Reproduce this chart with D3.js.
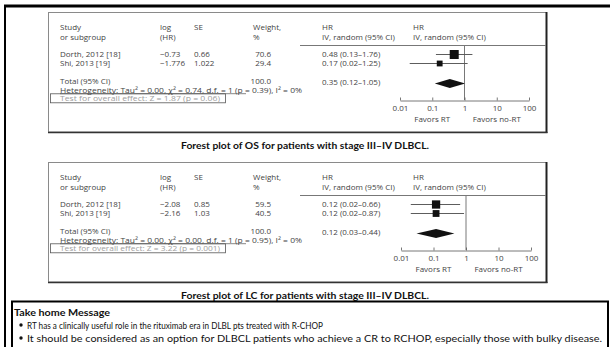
<!DOCTYPE html>
<html><head><meta charset="utf-8">
<script src="https://cdn.jsdelivr.net/npm/d3@7"></script>
<style>
html,body{margin:0;padding:0;background:#fff;}
svg{display:block;}
.ft{font-family:"Open Sans","Noto Sans",sans-serif;font-size:8px;fill:#444;}
.cap{font-family:Lato,"Open Sans",sans-serif;font-weight:bold;font-size:10px;fill:#111;}
.msg{font-family:Lato,"Open Sans",sans-serif;font-size:10px;fill:#111;}
</style></head><body>
<script>
// ---- data ----
const tickLabels = ["0.01", "0.1", "1", "10", "100"];
const tickValues = [0.01, 0.1, 1, 10, 100];

const studies1 = ["Dorth, 2012 [18]", "Shi, 2013 [19]"];
const logHR1 = ["\u22120.73", "\u22121.776"];
const se1 = ["0.66", "1.022"];
const weight1 = [70.6, 29.4];
const hr1 = [0.48, 0.17];
const lo1 = [0.13, 0.02];
const hi1 = [1.76, 1.25];
const total1 = [0.35, 0.12, 1.05];
const het1 = "Heterogeneity: Tau\u00B2 = 0.00, \u03C7\u00B2 = 0.74, d.f. = 1 (p = 0.39), I\u00B2 = 0%";
const test1 = "Test for overall effect: Z = 1.87 (p = 0.06)";
const caption1 = "Forest plot of OS for patients with stage III\u2013IV DLBCL.";

const studies2 = ["Dorth, 2012 [18]", "Shi, 2013 [19]"];
const logHR2 = ["\u22122.08", "\u22122.16"];
const se2 = ["0.85", "1.03"];
const weight2 = [59.5, 40.5];
const hr2 = [0.12, 0.12];
const lo2 = [0.02, 0.02];
const hi2 = [0.66, 0.87];
const total2 = [0.12, 0.03, 0.44];
const het2 = "Heterogeneity: Tau\u00B2 = 0.00, \u03C7\u00B2 = 0.00, d.f. = 1 (p = 0.95), I\u00B2 = 0%";
const test2 = "Test for overall effect: Z = 3.22 (p = 0.001)";
const caption2 = "Forest plot of LC for patients with stage III\u2013IV DLBCL.";

const msgTitle = "Take home Message";
const bullets = [
  "RT has a clinically useful role in the rituximab era in DLBL pts treated with R-CHOP",
  "It should be considered as an option for DLBCL patients who achieve a CR to RCHOP, especially those with bulky disease."
];

// ---- drawing ----
const W = 610, H = 347;
const svg = d3.select("body").append("svg").attr("width", W).attr("height", H);

// outer frame
svg.append("line").attr("x1", 4).attr("x2", 610).attr("y1", 6).attr("y2", 6)
  .attr("stroke", "#000").attr("stroke-width", 3);
svg.append("line").attr("x1", 5).attr("x2", 5).attr("y1", 5).attr("y2", 347)
  .attr("stroke", "#000").attr("stroke-width", 2);

function fmtCI(h, l, u) { return h.toFixed(2) + " (" + l.toFixed(2) + "\u2013" + u.toFixed(2) + ")"; }

function forest(oy, cfg) {
  const g = svg.append("g").attr("transform", `translate(0,${oy})`);
  // box
  g.append("rect").attr("x", 48.5).attr("y", 12.5).attr("width", 498).attr("height", 119.5)
    .attr("fill", "none").attr("stroke", "#8a8a8a").attr("stroke-width", 1);
  g.append("line").attr("x1", 546.5).attr("x2", 546.5).attr("y1", 12).attr("y2", 133)
    .attr("stroke", "#222").attr("stroke-width", 2);
  g.append("line").attr("x1", 48).attr("x2", 547.5).attr("y1", 132.5).attr("y2", 132.5)
    .attr("stroke", "#333").attr("stroke-width", 1.3);

  const x = d3.scaleLog().domain([0.01, 100]).range(cfg.range);
  const rowY = d3.scalePoint().domain(cfg.studies).range([54, 63]);
  const sz = d3.scaleSqrt().domain([0, 70.6]).range([0, 9]);

  // headers
  const hdr = [[60, "Study", "or subgroup"], [160, "log", "(HR)"], [194, "SE", ""], [253, "Weight,", "%"],
               [322, "HR", "IV, random (95% CI)"], [413, "HR", "IV, random (95% CI)"]];
  hdr.forEach(h => {
    g.append("text").attr("class", "ft").attr("x", h[0]).attr("y", 30).text(h[1]);
    g.append("text").attr("class", "ft").attr("x", h[0]).attr("y", 40).text(h[2]);
  });
  g.append("line").attr("x1", cfg.lineStart).attr("x2", 546).attr("y1", 45.5).attr("y2", 45.5)
    .attr("stroke", "#777").attr("stroke-width", 1);

  cfg.studies.forEach((s, i) => {
    const y = rowY(s);
    g.append("text").attr("class", "ft").attr("x", 60).attr("y", y + 2.8).text(s);
    g.append("text").attr("class", "ft").attr("x", 160).attr("y", y + 2.8).text(cfg.logHR[i]);
    g.append("text").attr("class", "ft").attr("x", 194).attr("y", y + 2.8).text(cfg.se[i]);
    g.append("text").attr("class", "ft").attr("x", 271).attr("y", y + 2.8).attr("text-anchor", "end").text(cfg.weight[i].toFixed(1));
    g.append("text").attr("class", "ft").attr("x", 322).attr("y", y + 2.8).text(fmtCI(cfg.hr[i], cfg.lo[i], cfg.hi[i]));
    g.append("line").attr("x1", x(cfg.lo[i])).attr("x2", x(cfg.hi[i])).attr("y1", y + 0.5).attr("y2", y + 0.5)
      .attr("stroke", "#333").attr("stroke-width", 0.8);
    const s2 = sz(cfg.weight[i]);
    g.append("rect").attr("x", x(cfg.hr[i]) - s2 / 2).attr("y", y + 0.5 - s2 / 2).attr("width", s2).attr("height", s2)
      .attr("fill", "#111");
  });

  const ty = 83.5;
  g.append("text").attr("class", "ft").attr("x", 60).attr("y", 83.5).text("Total (95% CI)");
  g.append("text").attr("class", "ft").attr("x", 271).attr("y", 83.5).attr("text-anchor", "end").text("100.0");
  g.append("text").attr("class", "ft").attr("x", 322).attr("y", 84.5).text(fmtCI(cfg.total[0], cfg.total[1], cfg.total[2]));
  const t = cfg.total;
  g.append("path").attr("d", `M${x(t[1])},${ty}L${x(t[0])},${ty - 4.5}L${x(t[2])},${ty}L${x(t[0])},${ty + 4.5}Z`)
    .attr("fill", "#111");

  g.append("text").attr("class", "ft").attr("x", 60).attr("y", 92.5)
    .attr("textLength", 242).attr("lengthAdjust", "spacingAndGlyphs").text(cfg.het);
  g.append("line").attr("x1", 60).attr("x2", 246).attr("y1", 93.7).attr("y2", 93.7).attr("stroke", "#555").attr("stroke-width", 0.7);
  g.append("rect").attr("x", 50.5).attr("y", 93.8).attr("width", 175).attr("height", 9)
    .attr("fill", "none").attr("stroke", "#555").attr("stroke-width", 0.8);
  g.append("text").attr("class", "ft").attr("x", 60).attr("y", 101).style("fill", "#a0a0a0")
    .attr("textLength", 160).attr("lengthAdjust", "spacingAndGlyphs").text(cfg.test);

  // null line
  g.append("line").attr("x1", x(1)).attr("x2", x(1)).attr("y1", 46).attr("y2", 100)
    .attr("stroke", "#555").attr("stroke-width", 0.8);

  const ax = g.append("g").attr("transform", "translate(0,100.5)")
    .call(d3.axisBottom(x).tickValues(tickValues).tickSizeInner(-3).tickSizeOuter(0)
      .tickFormat((d, i) => tickLabels[i]).tickPadding(5));
  ax.select(".domain").attr("stroke", "#555").attr("stroke-width", 0.8);
  ax.selectAll(".tick line").attr("stroke", "#555").attr("stroke-width", 0.8);
  ax.selectAll(".tick text").attr("class", "ft").attr("font-family", null).attr("font-size", null).attr("fill", null);

  g.append("text").attr("class", "ft").attr("x", x(0.1)).attr("y", 122).attr("text-anchor", "middle").text("Favors RT");
  g.append("text").attr("class", "ft").attr("x", x(10)).attr("y", 122).attr("text-anchor", "middle").text("Favors no-RT");

  g.append("text").attr("class", "cap").attr("x", 305).attr("y", 148.5).attr("text-anchor", "middle")
    .attr("textLength", 248).attr("lengthAdjust", "spacingAndGlyphs").text(cfg.caption);
}

forest(0, {studies: studies1, logHR: logHR1, se: se1, weight: weight1, hr: hr1, lo: lo1, hi: hi1,
  total: total1, het: het1, test: test1, caption: caption1, range: [400, 529], lineStart: 300});
forest(150, {studies: studies2, logHR: logHR2, se: se2, weight: weight2, hr: hr2, lo: lo2, hi: hi2,
  total: total2, het: het2, test: test2, caption: caption2, range: [401, 531], lineStart: 300});

// take home box
svg.append("rect").attr("x", 12).attr("y", 301.5).attr("width", 596).attr("height", 60)
  .attr("fill", "none").attr("stroke", "#000").attr("stroke-width", 2);
svg.append("text").attr("class", "cap").attr("x", 14).attr("y", 315.5)
  .attr("textLength", 96).attr("lengthAdjust", "spacingAndGlyphs").text(msgTitle);
const bLen = [296, 575];
bullets.forEach((b, i) => {
  const y = 328.5 + i * 13;
  svg.append("circle").attr("cx", 21).attr("cy", y - 3.5).attr("r", 1.7).attr("fill", "#111");
  svg.append("text").attr("class", "msg").attr("x", 27).attr("y", y)
    .attr("textLength", bLen[i]).attr("lengthAdjust", "spacingAndGlyphs").text(b);
});
</script>
</body></html>
